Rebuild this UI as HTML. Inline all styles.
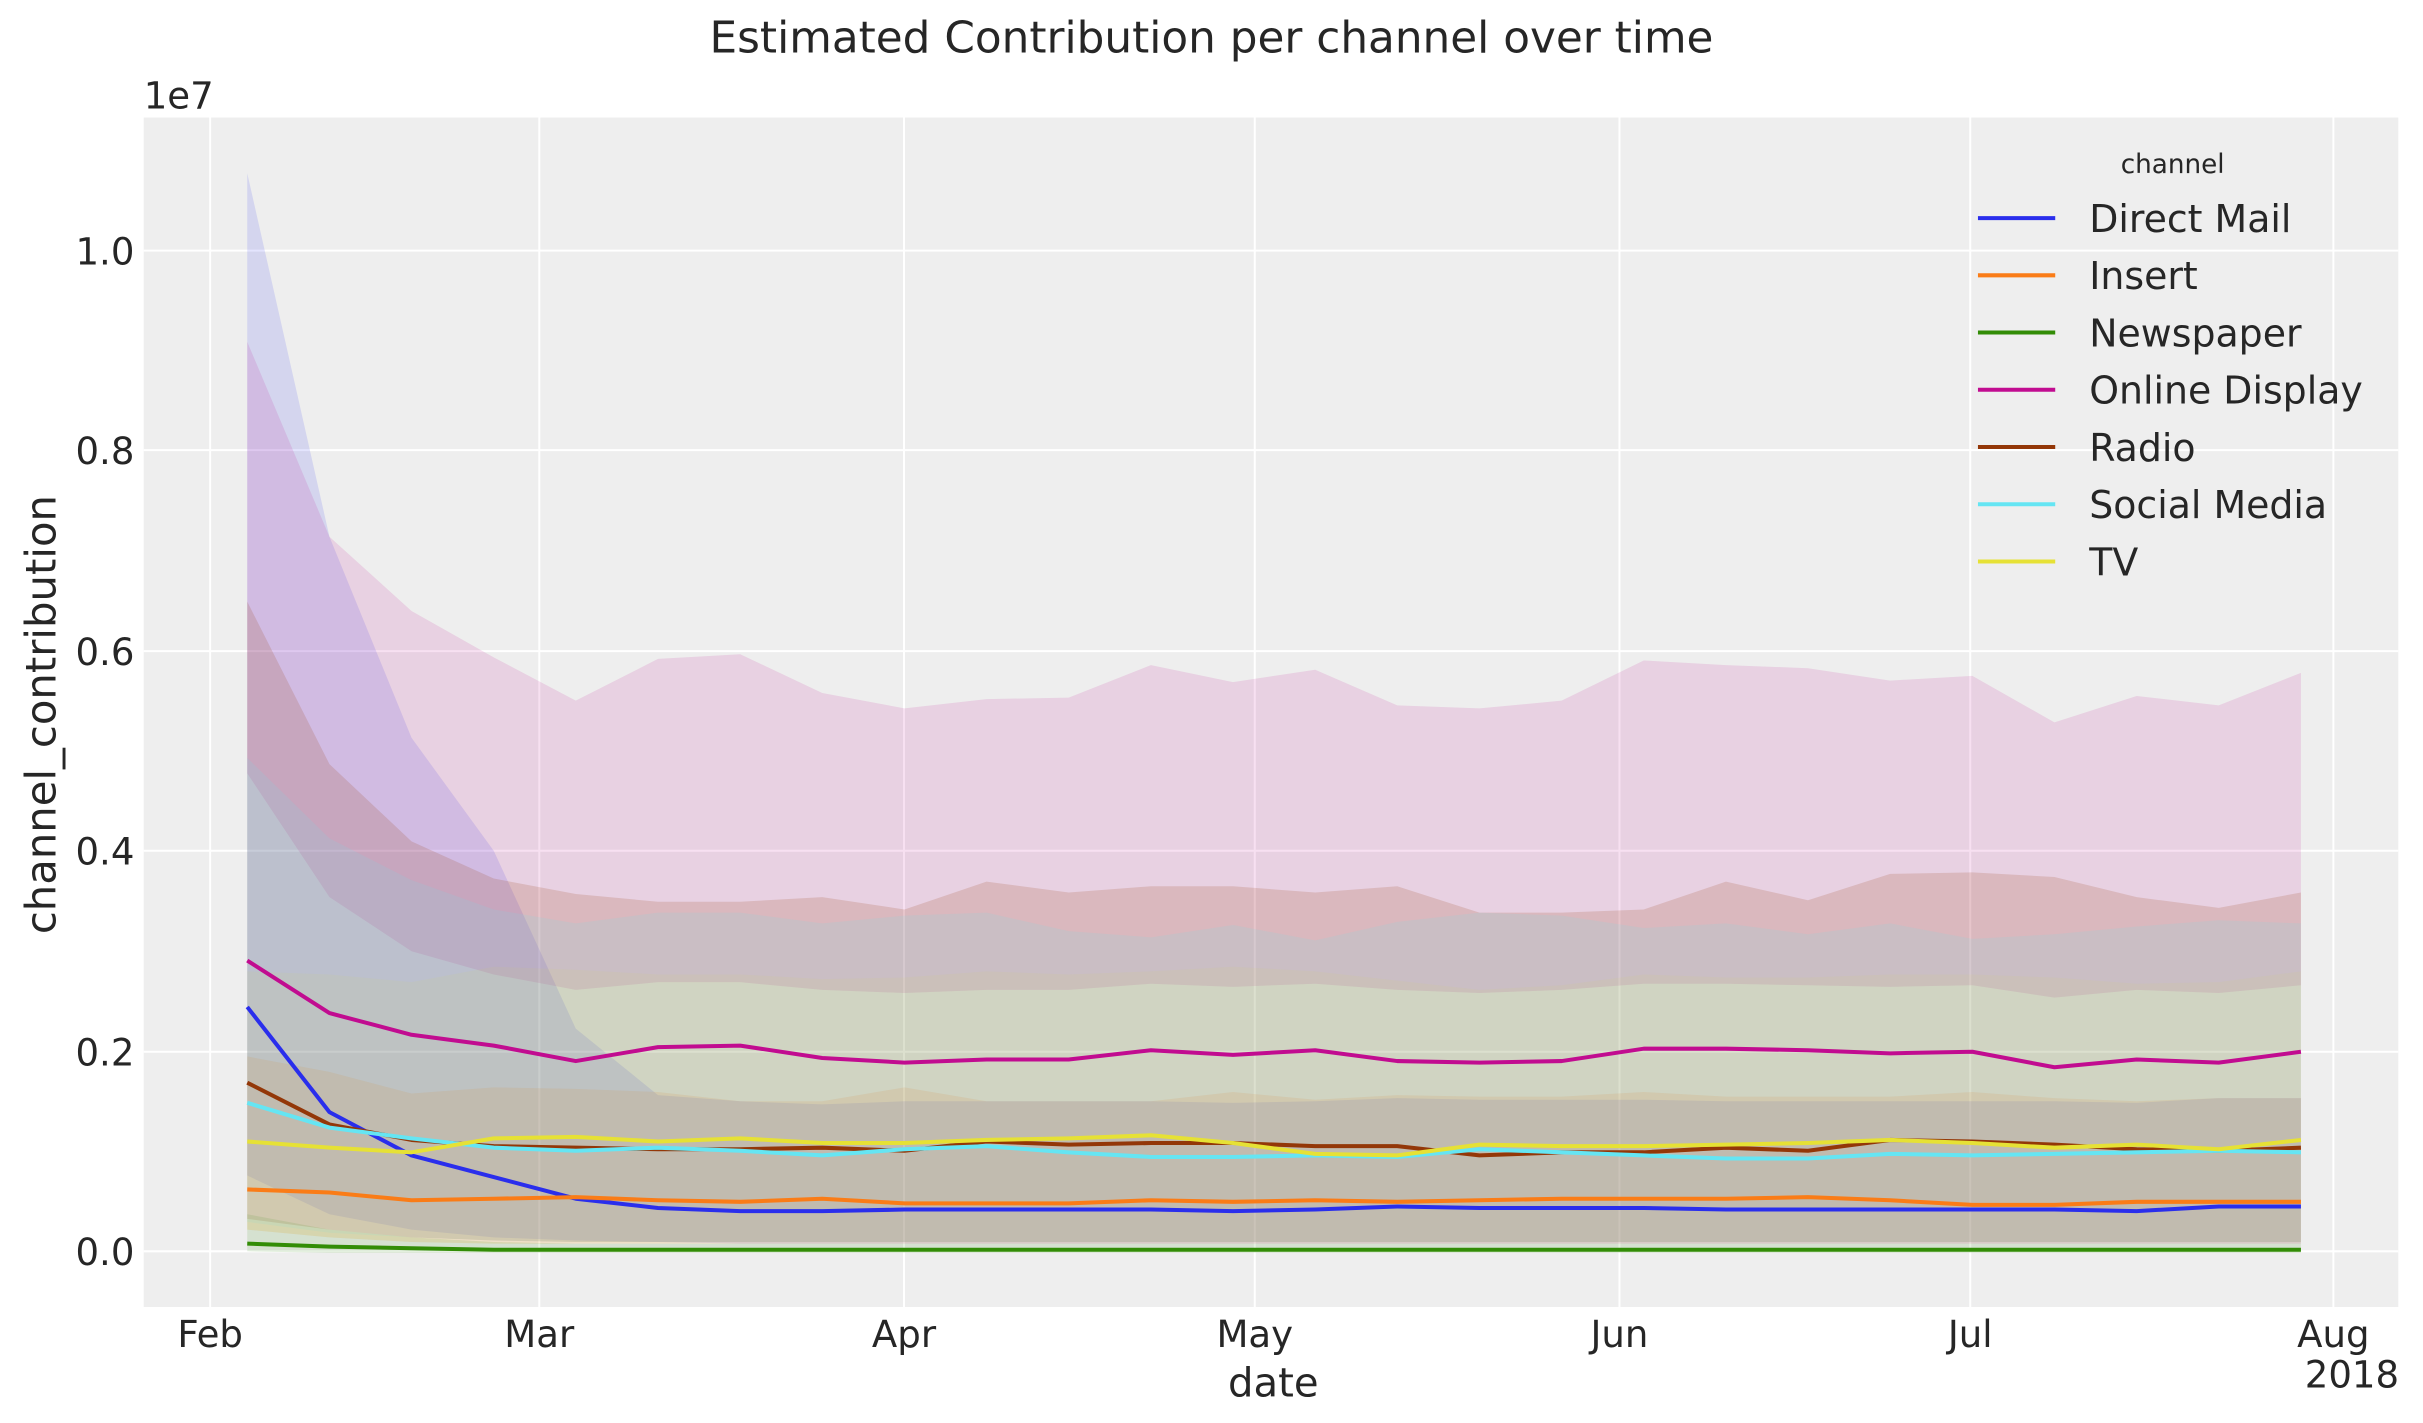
<!DOCTYPE html>
<html><head><meta charset="utf-8"><style>html,body{margin:0;padding:0;background:#fff}svg{display:block}</style></head>
<body>
<svg id="s" width="2423" height="1423" viewBox="0 0 1568 920" preserveAspectRatio="none" xmlns="http://www.w3.org/2000/svg" font-family="DejaVu Sans, Liberation Sans, sans-serif" fill="#262626">
<rect x="93" y="76" width="1459" height="769" fill="#eeeeee"/>
<g stroke="#fff" stroke-width="1.3">
<line x1="93" x2="1552" y1="809" y2="809"/><line x1="93" x2="1552" y1="680" y2="680"/><line x1="93" x2="1552" y1="550" y2="550"/><line x1="93" x2="1552" y1="421" y2="421"/><line x1="93" x2="1552" y1="291" y2="291"/><line x1="93" x2="1552" y1="162" y2="162"/>
<line y1="76" y2="845" x1="136" x2="136"/><line y1="76" y2="845" x1="349" x2="349"/><line y1="76" y2="845" x1="585" x2="585"/><line y1="76" y2="845" x1="812" x2="812"/><line y1="76" y2="845" x1="1048" x2="1048"/><line y1="76" y2="845" x1="1275" x2="1275"/><line y1="76" y2="845" x1="1510" x2="1510"/>
</g>
<g id="bands"></g>
<g id="lines" fill="none" stroke-width="2.6" stroke-linejoin="round"></g>
<g font-size="24" text-anchor="end">
<text x="87" y="818">0.0</text><text x="87" y="689">0.2</text><text x="87" y="559">0.4</text><text x="87" y="430">0.6</text><text x="87" y="300">0.8</text><text x="87" y="171">1.0</text>
</g>
<text x="93" y="70" font-size="24">1e7</text>
<g font-size="24" text-anchor="middle">
<text x="136" y="871">Feb</text><text x="349" y="871">Mar</text><text x="585" y="871">Apr</text><text x="812" y="871">May</text><text x="1048" y="871">Jun</text><text x="1275" y="871">Jul</text><text x="1510" y="871">Aug</text>
<text x="1522" y="897">2018</text>
<text x="824" y="903" font-size="26">date</text>
<text x="784" y="34" font-size="28.3">Estimated Contribution per channel over time</text>
<text transform="translate(36,462) rotate(-90)" font-size="27">channel_contribution</text>
</g>
<g id="legend"></g>
</svg>
<script>
var N=26,x0=160,dx=(1489-160)/25;
var C=["#2a2eec","#fa7c17","#328c06","#c10c90","#933708","#65e5f3","#e6e135"];
var names=["Direct Mail","Insert","Newspaper","Online Display","Radio","Social Media","TV"];
var L=[
[651,719,747,761,775,781,783,783,782,782,782,782,783,782,780,781,781,781,782,782,782,782,782,783,780,780],
[769,771,776,775,774,776,777,775,778,778,778,776,777,776,777,776,775,775,775,774,776,779,779,777,777,777],
[804,806,807,808,808,808,808,808,808,808,808,808,808,808,808,808,808,808,808,808,808,808,808,808,808,808],
[621,655,669,676,686,677,676,684,687,685,685,679,682,679,686,687,686,678,678,679,681,680,690,685,687,680],
[700,727,737,741,742,743,743,742,744,738,740,739,739,741,741,747,745,745,742,744,737,738,740,743,744,742],
[713,729,736,742,744,742,744,747,743,741,745,748,748,747,748,743,745,747,749,749,746,747,746,745,744,745],
[738,742,745,736,735,738,736,739,739,737,736,734,739,746,747,740,741,741,740,739,737,739,742,740,743,737]];
var U=[
[112,347,477,550,665,708,712,714,712,712,712,712,713,712,710,711,711,711,712,712,712,712,712,713,710,710],
[683,693,707,703,704,706,712,712,703,712,712,712,706,711,708,709,709,706,709,709,709,706,710,712,710,710],
[785,795,800,803,804,804,804,804,804,804,804,804,804,804,804,804,804,804,804,804,804,804,804,804,804,804],
[221,347,395,425,453,426,423,448,458,452,451,430,441,433,456,458,453,427,430,432,440,437,467,450,456,435],
[389,494,544,568,578,583,583,580,588,570,577,573,573,577,573,590,590,588,570,582,565,564,567,580,587,577],
[490,542,569,588,597,590,590,597,592,590,602,606,598,608,596,590,592,600,597,604,597,607,604,599,595,597],
[628,630,635,625,627,630,630,633,632,628,630,628,625,628,634,640,637,630,632,632,630,630,632,636,635,628]];
var Lo=[
[760,785,795,800,802,803,804,804,804,804,804,804,804,804,804,804,804,804,804,804,804,804,804,804,804,804],
[795,800,803,804,804,804,804,804,804,804,804,804,804,804,804,804,804,804,804,804,804,804,804,804,804,804],
[809,810,810,810,810,810,810,810,810,810,810,810,810,810,810,810,810,810,810,810,810,810,810,810,810,810],
[500,580,615,630,640,635,635,640,642,640,640,636,638,636,640,642,640,636,636,637,638,637,645,640,642,637],
[788,795,800,802,803,803,803,803,803,803,803,803,803,803,803,803,803,803,803,803,803,803,803,803,803,803],
[790,797,800,802,803,803,803,803,803,803,803,803,803,803,803,803,803,803,803,803,803,803,803,803,803,803],
[795,800,803,804,804,804,804,804,804,804,804,804,804,804,804,804,804,804,804,804,804,804,804,804,804,804]];
var op=[0.13,0.13,0.13,0.13,0.16,0.13,0.07];
var ns="http://www.w3.org/2000/svg",b=document.getElementById("bands"),l=document.getElementById("lines"),g=document.getElementById("legend");
function X(i){return (x0+dx*i).toFixed(1)}
for(var k=0;k<7;k++){
 var p="";for(var i=0;i<N;i++)p+=(i?"L":"M")+X(i)+","+U[k][i];
 for(var i=N-1;i>=0;i--)p+="L"+X(i)+","+Lo[k][i];p+="Z";
 var e=document.createElementNS(ns,"path");e.setAttribute("d",p);e.setAttribute("fill",C[k]);e.setAttribute("fill-opacity",op[k]);b.appendChild(e);
}
for(var k=0;k<7;k++){
 var p="";for(var i=0;i<N;i++)p+=(i?"L":"M")+X(i)+","+L[k][i];
 var e=document.createElementNS(ns,"path");e.setAttribute("d",p);e.setAttribute("stroke",C[k]);l.appendChild(e);
 var y=141+37*k;
 var ln=document.createElementNS(ns,"line");ln.setAttribute("x1",1280);ln.setAttribute("x2",1330);ln.setAttribute("y1",y);ln.setAttribute("y2",y);ln.setAttribute("stroke",C[k]);ln.setAttribute("stroke-width","2.6");g.appendChild(ln);
 var t=document.createElementNS(ns,"text");t.setAttribute("x",1352);t.setAttribute("y",y+9);t.setAttribute("font-size","24.5");t.textContent=names[k];g.appendChild(t);
}
var t=document.createElementNS(ns,"text");t.setAttribute("x",1406);t.setAttribute("y",112);t.setAttribute("font-size","17");t.setAttribute("text-anchor","middle");t.textContent="channel";g.appendChild(t);
</script>
</body></html>
